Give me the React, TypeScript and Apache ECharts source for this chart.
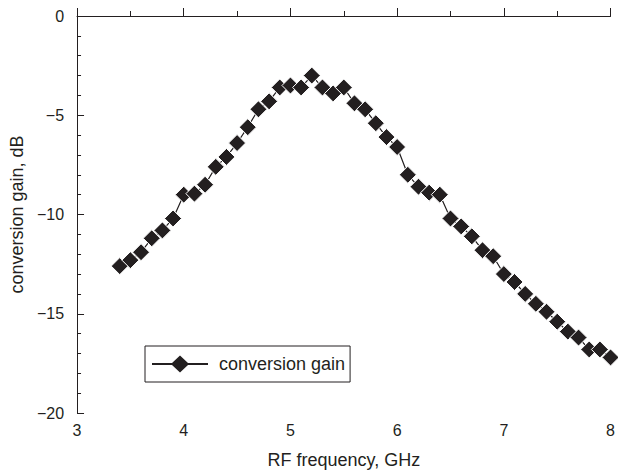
import React, { useEffect, useRef } from "react";
import * as echarts from "echarts";

const frequencies = [
  3.4, 3.5, 3.6, 3.7, 3.8, 3.9, 4.0, 4.1, 4.2, 4.3, 4.4, 4.5, 4.6, 4.7, 4.8, 4.9,
  5.0, 5.1, 5.2, 5.3, 5.4, 5.5, 5.6, 5.7, 5.8, 5.9, 6.0, 6.1, 6.2, 6.3, 6.4, 6.5,
  6.6, 6.7, 6.8, 6.9, 7.0, 7.1, 7.2, 7.3, 7.4, 7.5, 7.6, 7.7, 7.8, 7.9, 8.0,
];
const gains = [
  -12.6, -12.3, -11.9, -11.2, -10.8, -10.2, -9.0, -8.95, -8.5, -7.6, -7.1, -6.4,
  -5.6, -4.7, -4.3, -3.6, -3.5, -3.6, -3.0, -3.6, -3.9, -3.6, -4.4, -4.7, -5.4,
  -6.1, -6.6, -8.0, -8.6, -8.9, -9.0, -10.2, -10.6, -11.1, -11.8, -12.1, -13.0,
  -13.4, -14.0, -14.5, -14.9, -15.4, -15.9, -16.2, -16.8, -16.8, -17.2,
];
const seriesName = "conversion gain";
const xTitle = "RF frequency, GHz";
const yTitle = "conversion gain, dB";

const INK = "#231f20";
const FONT = "'Liberation Sans', Arial, Helvetica, sans-serif";
const LEGEND_ICON =
  "path://M0,7.6 L20,7.6 L28,0 L36,7.6 L56,7.6 L56,9.4 L36,9.4 L28,17 L20,9.4 L0,9.4 Z";

export default function App() {
  const ref = useRef<HTMLDivElement>(null);
  useEffect(() => {
    if (!ref.current) return;
    const chart = echarts.init(ref.current, undefined, { renderer: "svg" });
    chart.setOption({
      animation: false,
      backgroundColor: "#fff",
      textStyle: { fontFamily: FONT, color: INK },
      grid: { left: 74, right: 6, top: 16, bottom: 62, containLabel: false },
      xAxis: {
        type: "value",
        min: 3,
        max: 8,
        interval: 1,
        name: xTitle,
        nameLocation: "middle",
        nameGap: 38,
        nameTextStyle: { fontSize: 18, color: INK, fontFamily: FONT },
        axisLine: { show: true, lineStyle: { color: INK, width: 1 } },
        axisTick: { show: true, inside: true, length: 8, lineStyle: { color: INK } },
        minorTick: { show: true, splitNumber: 2, length: 5, lineStyle: { color: INK } },
        axisLabel: { fontSize: 16, color: INK, margin: 9, fontFamily: FONT },
        splitLine: { show: false },
      },
      yAxis: {
        type: "value",
        min: -20,
        max: 0,
        interval: 5,
        name: yTitle,
        nameLocation: "middle",
        nameGap: 41,
        nameTextStyle: { fontSize: 18, color: INK, fontFamily: FONT },
        axisLine: { show: true, lineStyle: { color: INK, width: 1 } },
        axisTick: { show: true, inside: true, length: 7, lineStyle: { color: INK } },
        minorTick: { show: true, splitNumber: 5, length: 4, lineStyle: { color: INK } },
        axisLabel: {
          fontSize: 16,
          color: INK,
          margin: 13,
          fontFamily: FONT,
          formatter: (v: number) => (v < 0 ? "\u2212" + Math.abs(v) : String(v)),
        },
        splitLine: { show: false },
      },
      legend: {
        show: true,
        left: 145,
        top: 346,
        orient: "horizontal",
        borderColor: INK,
        borderWidth: 1,
        padding: [9, 5, 9, 7],
        itemWidth: 56,
        itemHeight: 17,
        textStyle: { fontSize: 18, color: INK, fontFamily: FONT, padding: [0, 0, 0, 6] },
        data: [
          {
            name: seriesName,
            icon: LEGEND_ICON,
            itemStyle: { color: INK, borderWidth: 0 },
          },
        ],
      },
      series: [
        {
          name: seriesName,
          type: "line",
          data: frequencies.map((f, i) => [f, gains[i]]),
          symbol: "diamond",
          symbolSize: 17,
          showAllSymbol: true,
          lineStyle: { color: INK, width: 1.2 },
          itemStyle: { color: INK, borderColor: "#fff", borderWidth: 1 },
        },
      ],
    });
    return () => chart.dispose();
  }, []);
  return (
    <div
      ref={ref}
      style={{ position: "fixed", left: 0, top: 0, width: 618, height: 475 }}
    />
  );
}
